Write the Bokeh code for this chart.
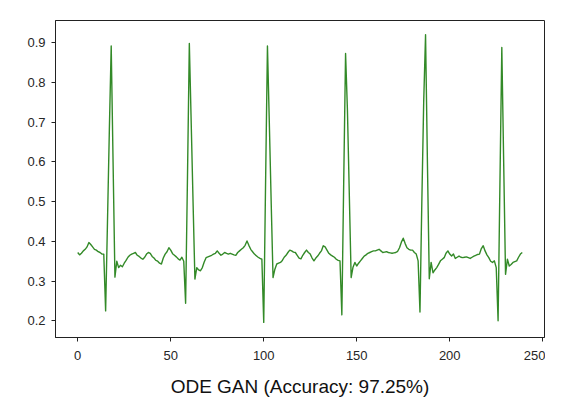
from bokeh.plotting import figure
from bokeh.models import Range1d, FixedTicker, PrintfTickFormatter
from bokeh.embed import file_html
from bokeh.resources import INLINE

# ECG-like signal values (index 0..239)
signal = [
    0.372, 0.366, 0.370, 0.376, 0.380, 0.386, 0.397, 0.392, 0.386, 0.380,
    0.378, 0.374, 0.372, 0.368, 0.368, 0.225, 0.450, 0.680, 0.892, 0.600,
    0.310, 0.350, 0.334, 0.340, 0.336, 0.345, 0.352, 0.360, 0.365, 0.368,
    0.370, 0.372, 0.365, 0.362, 0.358, 0.355, 0.360, 0.368, 0.372, 0.370,
    0.362, 0.358, 0.352, 0.350, 0.345, 0.343, 0.358, 0.368, 0.374, 0.384,
    0.378, 0.369, 0.365, 0.361, 0.356, 0.353, 0.360, 0.350, 0.244, 0.560,
    0.898, 0.700, 0.500, 0.305, 0.334, 0.328, 0.326, 0.334, 0.348, 0.359,
    0.361, 0.363, 0.365, 0.368, 0.370, 0.376, 0.370, 0.365, 0.368, 0.372,
    0.370, 0.368, 0.370, 0.368, 0.366, 0.365, 0.372, 0.376, 0.380, 0.384,
    0.390, 0.401, 0.390, 0.380, 0.374, 0.368, 0.364, 0.360, 0.357, 0.355,
    0.196, 0.550, 0.892, 0.700, 0.500, 0.309, 0.330, 0.343, 0.345, 0.347,
    0.352, 0.360, 0.365, 0.372, 0.378, 0.376, 0.373, 0.372, 0.365, 0.358,
    0.356, 0.365, 0.372, 0.378, 0.372, 0.368, 0.358, 0.351, 0.358, 0.363,
    0.370, 0.376, 0.389, 0.386, 0.378, 0.370, 0.366, 0.363, 0.360, 0.355,
    0.352, 0.351, 0.215, 0.550, 0.873, 0.730, 0.520, 0.309, 0.335, 0.347,
    0.338, 0.345, 0.351, 0.357, 0.363, 0.366, 0.370, 0.372, 0.374, 0.376,
    0.376, 0.378, 0.380, 0.376, 0.372, 0.373, 0.374, 0.372, 0.371, 0.370,
    0.371, 0.372, 0.375, 0.384, 0.398, 0.408, 0.395, 0.384, 0.380, 0.378,
    0.378, 0.372, 0.368, 0.351, 0.222, 0.500, 0.750, 0.920, 0.600, 0.306,
    0.347, 0.321, 0.328, 0.334, 0.342, 0.351, 0.355, 0.359, 0.370, 0.376,
    0.368, 0.363, 0.368, 0.357, 0.360, 0.363, 0.360, 0.359, 0.360, 0.361,
    0.359, 0.357, 0.360, 0.363, 0.365, 0.367, 0.368, 0.382, 0.389, 0.376,
    0.366, 0.359, 0.350, 0.347, 0.351, 0.334, 0.200, 0.550, 0.888, 0.600,
    0.317, 0.355, 0.338, 0.342, 0.347, 0.349, 0.351, 0.360, 0.368, 0.372,
]
sample_index = list(range(len(signal)))

x_ticks = [0, 50, 100, 150, 200, 250]
y_ticks = [0.2, 0.3, 0.4, 0.5, 0.6, 0.7, 0.8, 0.9]
x_label = "ODE GAN (Accuracy: 97.25%)"

p = figure(width=545, height=401, output_backend="svg", toolbar_location=None,
           x_range=Range1d(-11.95, 250.95), y_range=Range1d(0.158, 0.956),
           min_border_left=55, min_border_right=1, min_border_top=20,
           min_border_bottom=64)

p.line(sample_index, signal, line_color="#338a28", line_width=1.4,
       line_join="round")

p.grid.visible = False
p.outline_line_color = "#222222"
p.outline_line_width = 1

for ax in (p.xaxis[0], p.yaxis[0]):
    ax.axis_line_color = "#222222"
    ax.major_tick_in = 0
    ax.major_tick_out = 4
    ax.major_tick_line_color = "#222222"
    ax.minor_tick_line_color = None
    ax.major_label_text_font = "Liberation Sans"
    ax.major_label_text_font_size = "13px"
    ax.major_label_text_color = "#262626"
    ax.major_label_standoff = 6

p.xaxis[0].major_label_standoff = 9
p.xaxis[0].ticker = FixedTicker(ticks=x_ticks)
p.yaxis[0].ticker = FixedTicker(ticks=y_ticks)
p.xaxis[0].formatter = PrintfTickFormatter(format="%d")
p.yaxis[0].formatter = PrintfTickFormatter(format="%.1f")

p.xaxis[0].axis_label = x_label
p.xaxis[0].axis_label_text_font = "Liberation Sans"
p.xaxis[0].axis_label_text_font_size = "19px"
p.xaxis[0].axis_label_text_font_style = "normal"
p.xaxis[0].axis_label_text_color = "#111111"
p.xaxis[0].axis_label_standoff = 13

open("out.html", "w").write(file_html(p, INLINE))
